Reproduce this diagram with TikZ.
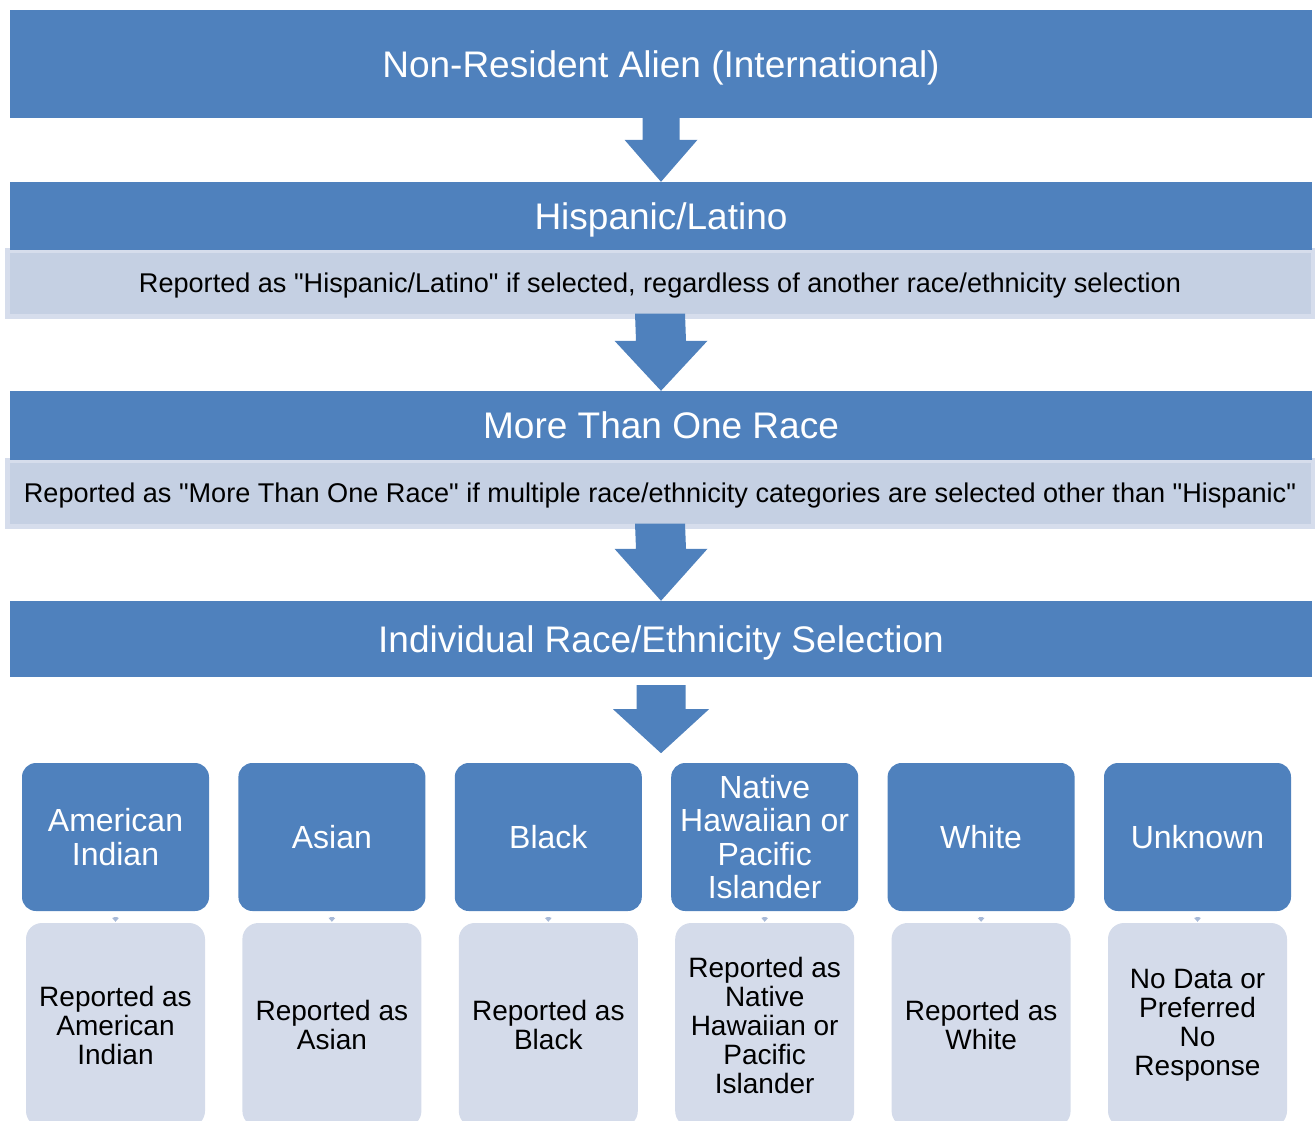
\documentclass[tikz,border=0pt]{standalone}
\usepackage{fontspec}
\setmainfont{Liberation Sans}[Ligatures=TeXOff]
\usetikzlibrary{calc}
\definecolor{barblue}{RGB}{79,129,189}
\definecolor{notefill}{RGB}{197,208,227}
\definecolor{noteedge}{RGB}{214,221,236}
\definecolor{repfill}{RGB}{212,219,234}
\definecolor{tipgrey}{RGB}{168,186,216}

% block arrow: [colour] start, tip, shaft half width, head half width, head length
\newcommand\blockarr[6][barblue]{%
  \fill[#1] ($(#2)+(-#4,0)$) -- ($(#2)+(#4,0)$) -- ($(#3)+(#4,-#6)$) -- ($(#3)+(#5,-#6)$)
    -- (#3) -- ($(#3)+(-#5,-#6)$) -- ($(#3)+(-#4,-#6)$) -- cycle;}

\begin{document}
\begin{tikzpicture}[x=1pt,y=-1pt,
  banner/.style={fill=barblue,text=white,minimum width=1302pt,inner sep=0pt,
    text height=26.6pt,text depth=0pt,font=\fontsize{37}{40}\selectfont},
  note/.style={fill=notefill,draw=noteedge,line width=5pt,minimum width=1306pt,
    minimum height=66pt,inner sep=0pt,text height=19.5pt,text depth=0pt,
    font=\fontsize{27.1}{30}\selectfont},
  racebox/.style={fill=barblue,text=white,rounded corners=14pt,minimum width=187pt,
    minimum height=148pt,align=center,inner sep=0pt,font=\fontsize{32}{33.5}\selectfont},
  repbox/.style={fill=repfill,rounded corners=16pt,minimum width=179pt,
    minimum height=204pt,align=center,inner sep=0pt,font=\fontsize{28}{29}\selectfont}]
  \useasboundingbox (0,0) rectangle (1315,1121);

  % notes sit under the banners
  \node[note] (hispnote) at (660,283) {Reported as "Hispanic/Latino" if selected, regardless of another race/ethnicity selection};
  \node[note] (multinote) at (660,493) {Reported as "More Than One Race" if multiple race/ethnicity categories are selected other than "Hispanic"};

  \node[banner,minimum height=108pt] (nra) at (661,64) {Non-Resident Alien (International)};
  \node[banner,minimum height=68pt] (hisp) at (661,216) {Hispanic/Latino};
  \node[banner,minimum height=69pt] (mtor) at (661,425.5) {More Than One Race};
  \node[banner,minimum height=76pt] (irs) at (661,639) {Individual Race/Ethnicity Selection};

  \coordinate (a2s) at ($(hispnote.south)+(0,-5)$);
  \coordinate (a3s) at ($(multinote.south)+(0,-5)$);
  \coordinate (a4s) at ($(irs.south)+(0,8)$);
  \coordinate (a4t) at ($(irs.south)+(0,76)$);
  \blockarr{nra.south}{hisp.north}{18.5}{36.5}{42}
  \blockarr{a2s}{mtor.north}{25}{46.5}{50}
  \blockarr{a3s}{irs.north}{25}{46.5}{52}
  \blockarr{a4s}{a4t}{24.5}{48}{44}

  \foreach \i/\race/\rep in {
    1/{American\\Indian}/{Reported as\\American\\Indian},
    2/{Asian}/{Reported as\\Asian},
    3/{Black}/{Reported as\\Black},
    4/{Native\\Hawaiian or\\Pacific\\Islander}/{Reported as\\Native\\Hawaiian or\\Pacific\\Islander},
    5/{White}/{Reported as\\White},
    6/{Unknown}/{No Data or\\Preferred\\No\\Response}} {
    \node[racebox] (race\i) at ({115.5+216.4*(\i-1)},837) {\race};
    \node[repbox] (rep\i) at ({115.5+216.4*(\i-1)},1025) {\rep};
    \coordinate (tipS\i) at ($(race\i.south)+(0,6)$);
    \coordinate (tipT\i) at ($(rep\i.north)+(0,-1)$);
    \blockarr[tipgrey]{tipS\i}{tipT\i}{2}{3.5}{4}
  }
\end{tikzpicture}
\end{document}
